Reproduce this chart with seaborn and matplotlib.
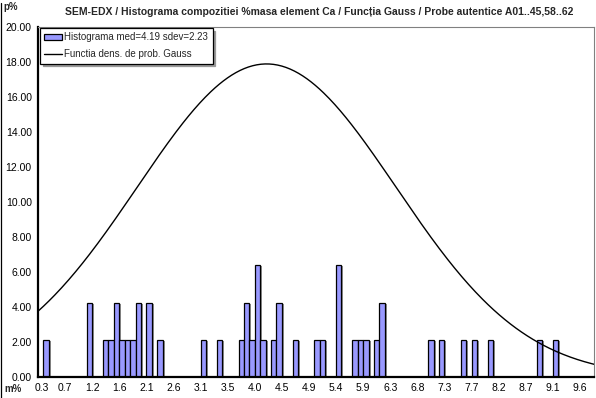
import numpy as np
import pandas as pd
import matplotlib
matplotlib.use("Agg")
import matplotlib.pyplot as plt
from matplotlib import patheffects as pe
from matplotlib import transforms as mtransforms
from matplotlib.patches import Patch
from matplotlib.lines import Line2D
import seaborn as sns

# Occupied histogram bins (index from the first bin) and sample count per bin
bin_index = [1, 9, 12, 13, 14, 15, 16, 17, 18, 20, 22,
             30, 33, 37, 38, 39, 40, 41, 43, 44, 47, 51, 52,
             55, 58, 59, 60, 62, 63, 72, 74, 78, 80, 83, 92, 95]
bin_count = [1, 2, 1, 1, 2, 1, 1, 1, 2, 2, 1,
             1, 1, 1, 2, 1, 3, 1, 1, 2, 1, 1, 1,
             3, 1, 1, 1, 1, 2, 1, 1, 1, 1, 1, 1, 1]
n_samples = 47
bin_start = 0.25      # m% at the left edge of bin 0
bin_width = 0.0934    # m% per bin
n_bins_axis = 102.6   # axis length in bins

mean_ca = 4.19
sdev_ca = 2.23

x_tick_labels = ["0.3", "0.7", "1.2", "1.6", "2.1", "2.6", "3.1", "3.5", "4.0", "4.5",
                 "4.9", "5.4", "5.9", "6.3", "6.8", "7.3", "7.7", "8.2", "8.7", "9.1", "9.6"]
y_ticks = [0, 2, 4, 6, 8, 10, 12, 14, 16, 18, 20]

title = ("SEM-EDX / Histograma compozitiei %masa element Ca / "
         "Funcția Gauss / Probe autentice A01..45,58..62")
hist_label = f"Histograma med={mean_ca:.2f} sdev={sdev_ca:.2f}"
gauss_label = "Functia dens. de prob. Gauss"

BAR_COLOR = "#9999FF"

sns.set_theme(style="white")
plt.rcParams["font.family"] = ["Liberation Sans", "DejaVu Sans"]

W, H = 596, 398
fig = plt.figure(figsize=(W / 100, H / 100), dpi=100)
fig.patch.set_facecolor("white")

ax_l, ax_r, ax_t, ax_b = 38, 594, 27, 377
ax = fig.add_axes([ax_l / W, 1 - ax_b / H, (ax_r - ax_l) / W, (ax_b - ax_t) / H])

# histogram bars, percent of samples per bin
hist = pd.DataFrame({
    "center": [bin_start + (i + 0.5) * bin_width for i in bin_index],
    "pct": [c * 100.0 / n_samples for c in bin_count],
})
sns.barplot(data=hist, x="center", y="pct", native_scale=True, width=1.0,
            color=BAR_COLOR, saturation=1, edgecolor="black", linewidth=0.9,
            ax=ax, zorder=2)
shadow = [pe.SimplePatchShadow(offset=(1.4, -0.8), shadow_rgbFace="#777777", alpha=0.8),
          pe.Normal()]
for p in ax.patches:
    p.set_path_effects(shadow)

# Gauss probability density (percent per m%)
x_lo = bin_start
x_hi = bin_start + n_bins_axis * bin_width
xs = np.linspace(x_lo, x_hi, 400)
ys = 100.0 * np.exp(-0.5 * ((xs - mean_ca) / sdev_ca) ** 2) / (sdev_ca * np.sqrt(2 * np.pi))
sns.lineplot(x=xs, y=ys, color="black", linewidth=1.0, ax=ax, zorder=3)

ax.set_xlim(x_lo, x_hi)
ax.set_ylim(0, 20)
ax.set_xticks([bin_start + 5 * k * bin_width for k in range(len(x_tick_labels))])
ax.set_xticklabels(x_tick_labels)
ax.set_yticks(y_ticks)
ax.set_yticklabels([f"{v:.2f}" for v in y_ticks])
ax.set_xlabel("")
ax.set_ylabel("")
ax.tick_params(axis="both", which="major", direction="inout", length=7, width=1.0,
               color="black", labelsize=7.5, labelcolor="black")
ax.tick_params(axis="x", pad=1)
ax.tick_params(axis="y", pad=1)

# the first category label sits just right of the value axis
first = ax.get_xticklabels()[0]
first.set_transform(first.get_transform() +
                    mtransforms.ScaledTranslation(3.5 / 100, 0, fig.dpi_scale_trans))

for side in ["left", "bottom"]:
    ax.spines[side].set_color("black")
    ax.spines[side].set_linewidth(1.6)
for side in ["top", "right"]:
    ax.spines[side].set_color("#808080")
    ax.spines[side].set_linewidth(0.8)
ax.grid(False)

handles = [Patch(facecolor=BAR_COLOR, edgecolor="black", linewidth=0.9),
           Line2D([0], [0], color="black", linewidth=1.0)]
leg = ax.legend(handles, [hist_label, gauss_label], loc="upper left",
                bbox_to_anchor=(2 / (ax_r - ax_l), 1 - 1 / (ax_b - ax_t)),
                borderaxespad=0, fontsize=7, frameon=True, fancybox=False,
                edgecolor="black", framealpha=1, borderpad=0.45,
                labelspacing=0.7, handlelength=1.8, handleheight=0.5,
                handletextpad=0.25,
                shadow={"ox": 2, "oy": -2, "color": "#999999", "alpha": 1.0})
leg.get_frame().set_linewidth(0.9)

fig.text(319 / W, 1 - 12 / H, title, ha="center", va="center",
         fontsize=7.5, fontweight="bold")
fig.text(3 / W, 1 - 7 / H, "p%", ha="left", va="center", fontsize=7, fontweight="bold")
fig.text(4 / W, 1 - 389 / H, "m%", ha="left", va="center", fontsize=7, fontweight="bold")

# left edge line of the chart area
fig.add_artist(Line2D([0.8 / W, 0.8 / W], [0, 1 - 3 / H], transform=fig.transFigure,
                      color="black", linewidth=0.9))

fig.savefig("out.png", dpi=100, facecolor="white")
